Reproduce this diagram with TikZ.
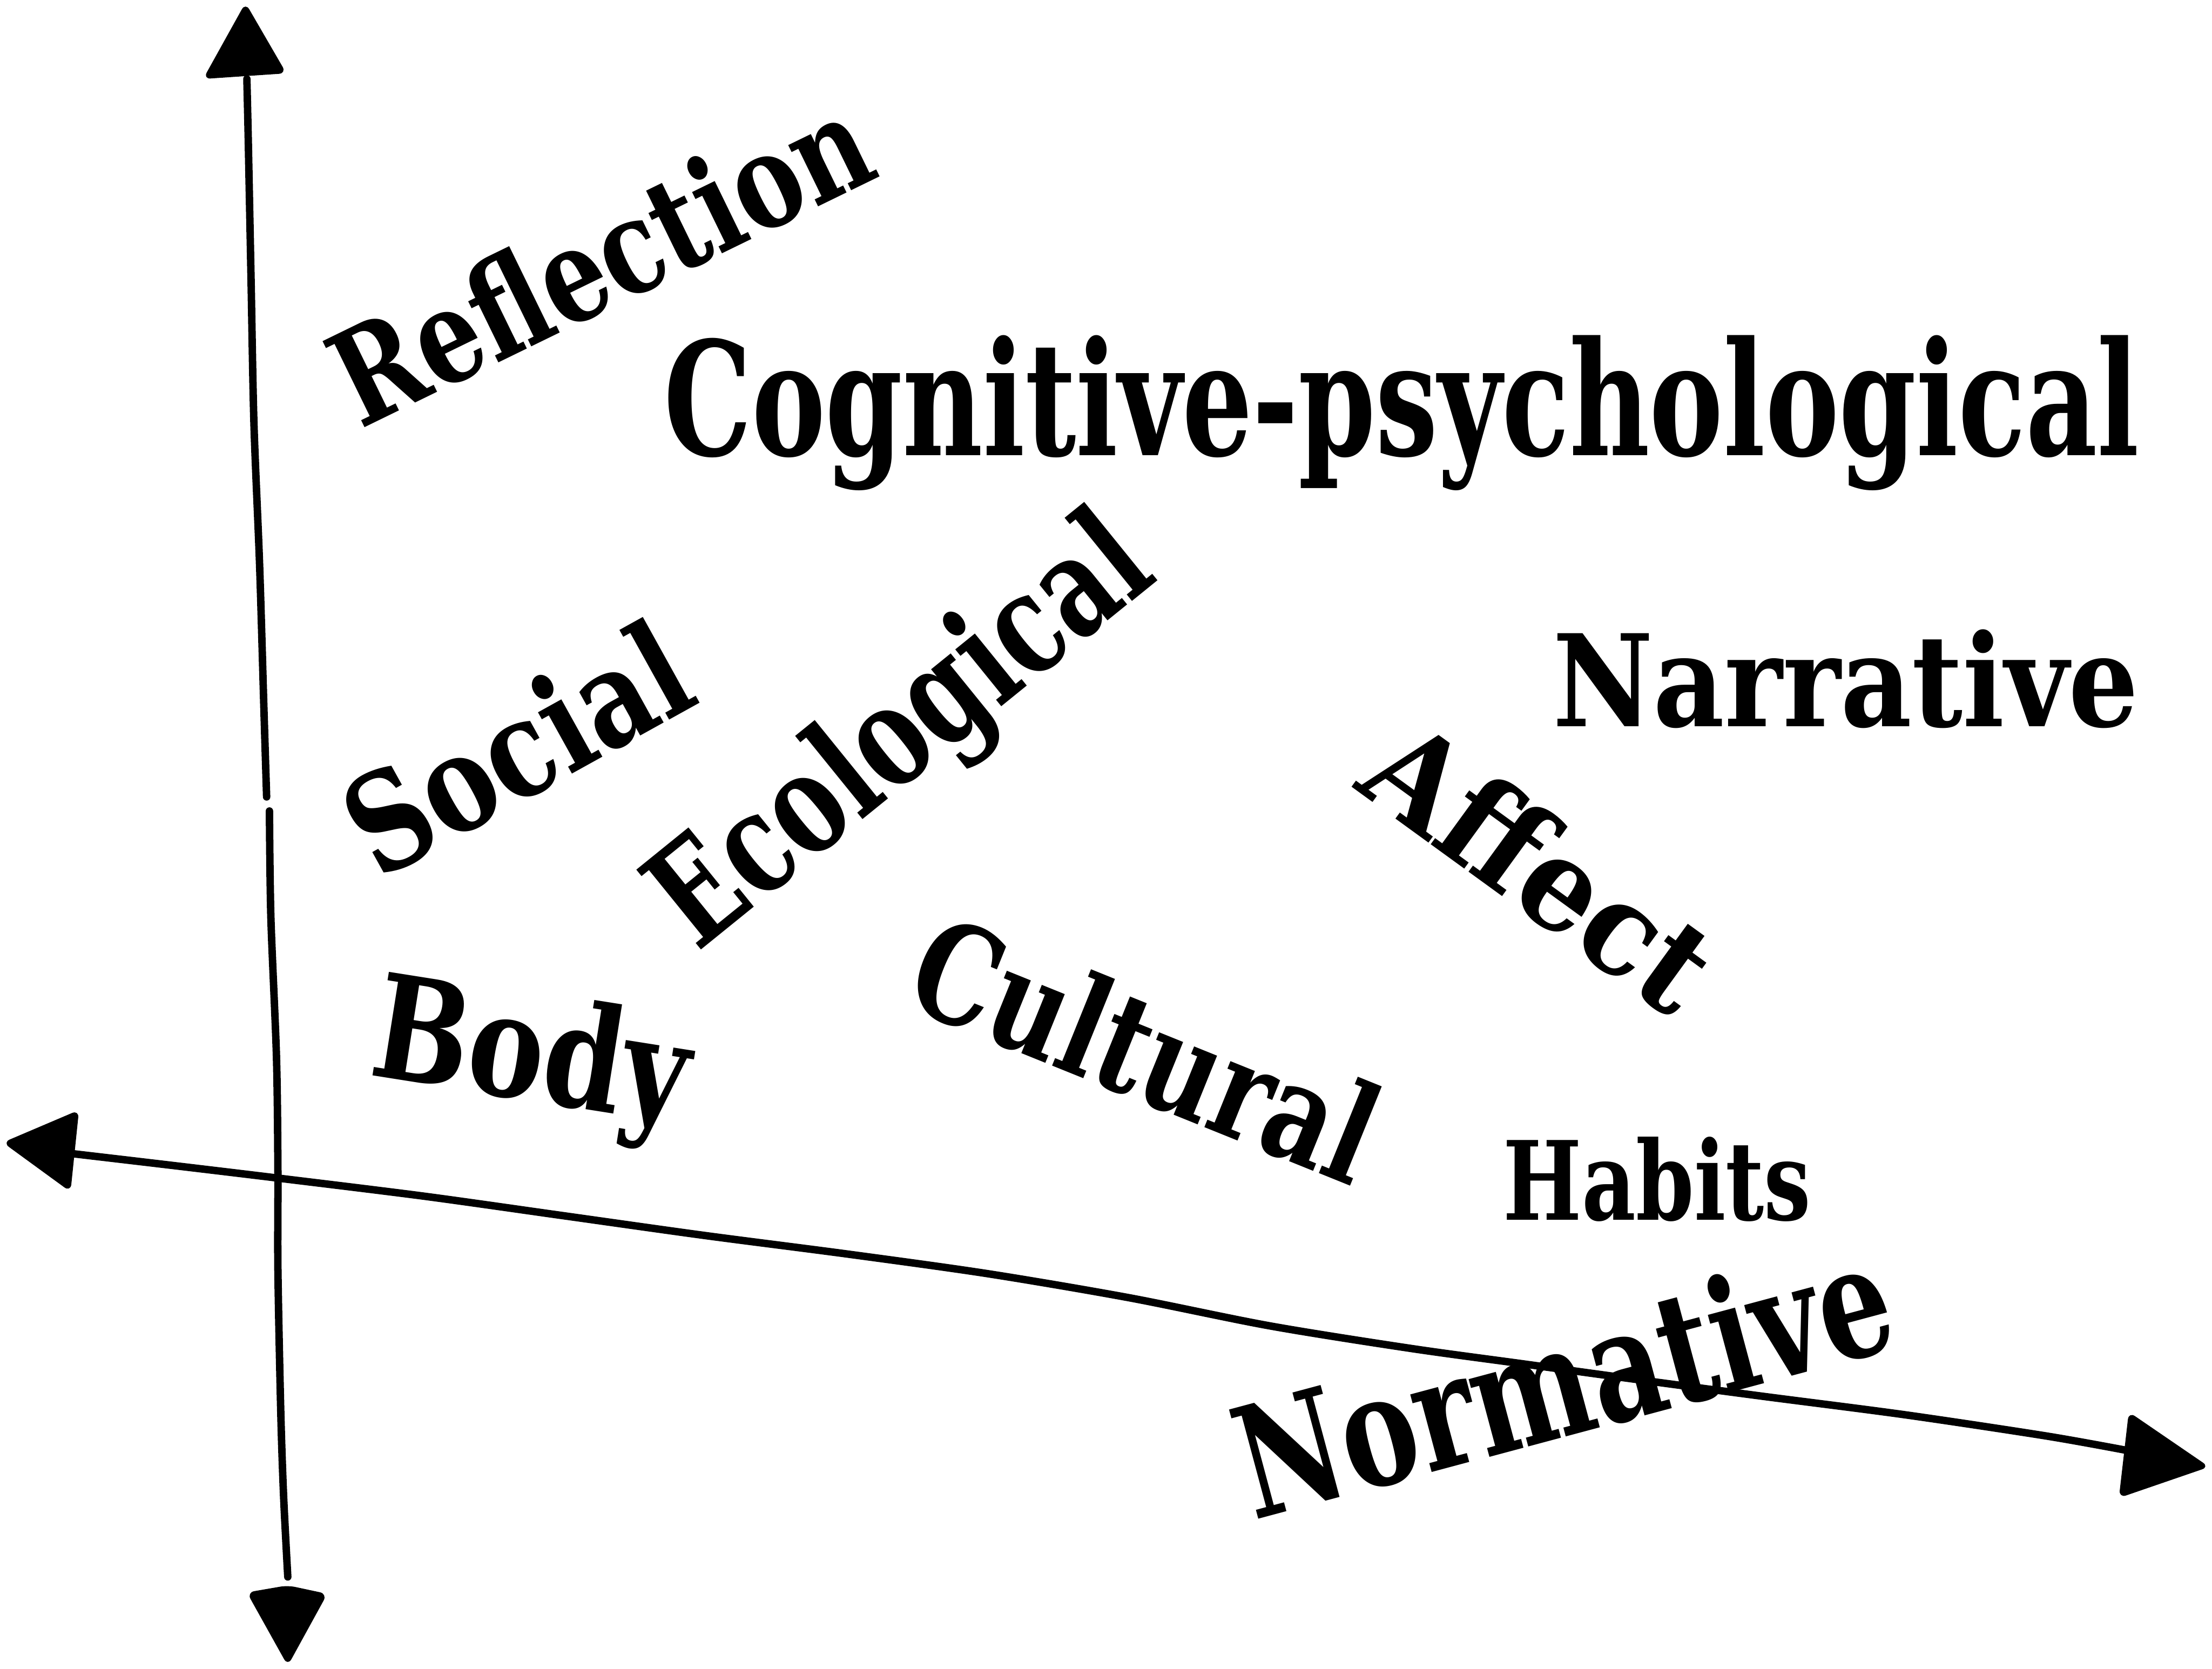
\documentclass[tikz,border=0pt]{standalone}
\usepackage{graphicx}
\usepackage{fontspec}
\setmainfont{DejaVu Serif}
\tikzset{
  axisline/.style={line width=1.5pt, line cap=round, line join=round},
  tipfill/.style={fill=black, rounded corners=1.5pt},
  lbl/.style={inner sep=0pt, anchor=base west, font=\bfseries}
}
\newcommand{\fitlab}[3]{\resizebox*{#1}{#2}{#3}}
\begin{document}
\begin{tikzpicture}[x=0.01cm, y=-0.01cm]
\useasboundingbox (0,0) rectangle (1568,1183);

% arrow tips of the axes
\coordinate (topTip) at (174,2);
\coordinate (bottomTip) at (204,1181);
\coordinate (leftTip) at (2,810);
\coordinate (rightTip) at (1566,1040);

% vertical axis
\draw[axisline] plot[smooth] coordinates {(175,56) (176,100) (178,200) (180,300) (184,400) (187,500) (189,565)};
\draw[axisline] plot[smooth] coordinates {(191,575) (192,650) (196,750) (197,830) (197,900) (199,1000) (201,1060) (204,1118)};
\fill[tipfill] (topTip) -- (144,56) -- (203,52) -- cycle;
\fill[tipfill] (bottomTip) -- (175,1129) -- (204,1124) -- (232,1130) -- cycle;

% horizontal axis
\draw[axisline] plot[smooth] coordinates {(52,818) (120,826) (195,835) (300,848) (400,862) (500,876) (600,889) (700,903) (800,920) (900,940) (1000,956) (1080,967) (1160,978) (1250,990) (1350,1003) (1450,1018) (1506,1028)};
\fill[tipfill] (leftTip) -- (56,787) -- (50,845) -- cycle;
\fill[tipfill] (rightTip) -- (1509,1001) -- (1502,1062) -- cycle;

% labels
\node[lbl, rotate=26] (reflection) at (255,305) {\fitlab{4.11cm}{0.72cm}{Reflection}};
\node[lbl] (cogpsy) at (470,323) {\fitlab{10.45cm}{1.10cm}{Cognitive-psychological}};
\node[lbl] (narrative) at (1100,515) {\fitlab{4.15cm}{0.70cm}{Narrative}};
\node[lbl, rotate=29] (social) at (268,625) {\fitlab{2.62cm}{0.74cm}{Social}};
\node[lbl, rotate=39] (ecological) at (494,676) {\fitlab{4.21cm}{0.98cm}{Ecological}};
\node[lbl, rotate=-9] (body) at (260,762) {\fitlab{2.25cm}{1.0cm}{Body}};
\node[lbl, rotate=-22] (cultural) at (638,712) {\fitlab{3.45cm}{0.75cm}{Cultural}};
\node[lbl, rotate=-36] (affect) at (958,558) {\fitlab{2.8cm}{0.70cm}{Affect}};
\node[lbl] (habits) at (1065,865) {\fitlab{2.18cm}{0.60cm}{Habits}};
\node[lbl, rotate=15] (normative) at (888,1078) {\fitlab{4.75cm}{0.85cm}{Normative}};
\end{tikzpicture}
\end{document}
